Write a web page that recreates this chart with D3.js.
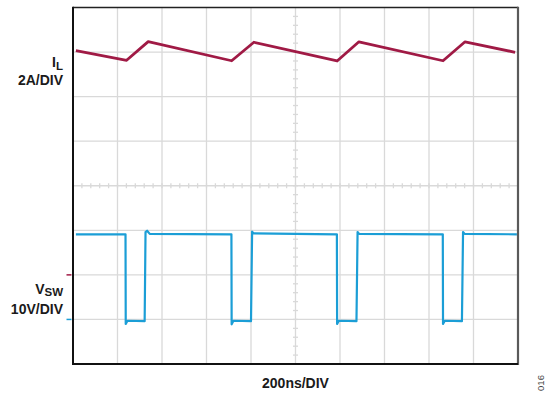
<!DOCTYPE html>
<html lang="en">
  <head>
    <meta charset="utf-8"/>
    <title>IL and VSW waveforms</title>
    <script src="https://d3js.org/d3.v7.min.js"></script>
    <style>
      body { margin: 0; background: #fff; }
      text { font-family: "Liberation Sans", Arial, sans-serif; font-weight: bold; fill: #1a1a1a; }
    </style>
  </head>
  <body>
    <div id="chart"></div>
    <script>
    // scope settings: 200ns/DIV, IL 2A/DIV (zero at -2 div), VSW 10V/DIV (zero at -3 div)
    var timeDivs = 10;
    var voltDivs = 8;
    var nsPerDiv = 200;

    // inductor current, ns / A
    var ilTime = [13, 241, 338, 713, 813, 1187, 1285, 1663, 1762, 1987];
    var ilAmps = [10.06, 9.63, 10.47, 9.61, 10.44, 9.60, 10.46, 9.61, 10.46, 9.99];

    // switch node voltage, ns / V
    var swTime = [13, 236, 237, 245, 322, 326, 333, 345,
                  712, 713, 721, 800, 805, 812,
                  1186, 1187, 1195, 1274, 1279, 1286,
                  1662, 1663, 1671, 1748, 1753, 1760, 1995];
    var swVolts = [19.1, 19.1, -1.0, -0.3, -0.4, 19.6, 19.9, 19.2,
                   19.1, -1.1, -0.3, -0.4, 19.7, 19.3,
                   19.1, -1.0, -0.3, -0.4, 19.6, 19.2,
                   19.1, -1.0, -0.3, -0.4, 19.6, 19.2, 19.1];

    var width = 546, height = 394;
    var plotLeft = 73, plotRight = 518, plotTop = 7.5, plotBottom = 364;

    var svg = d3.select("#chart").append("svg")
        .attr("width", width)
        .attr("height", height);

    var x = d3.scaleLinear().domain([0, timeDivs * nsPerDiv]).range([plotLeft, plotRight]);
    var yDiv = d3.scaleLinear().domain([-voltDivs / 2, voltDivs / 2]).range([plotBottom, plotTop]);
    var yIL = d3.scaleLinear().domain([-4, 12]).range([plotBottom, plotTop]);
    var ySW = d3.scaleLinear().domain([-10, 70]).range([plotBottom, plotTop]);

    // grid
    var grid = svg.append("g").attr("stroke", "#d9d9d9").attr("stroke-width", 1.3);
    d3.range(1, timeDivs).forEach(function(i) {
      var gx = x(i * nsPerDiv);
      grid.append("line").attr("x1", gx).attr("x2", gx).attr("y1", plotTop).attr("y2", plotBottom);
    });
    d3.range(-voltDivs / 2 + 1, voltDivs / 2).forEach(function(d) {
      grid.append("line").attr("x1", plotLeft).attr("x2", plotRight).attr("y1", yDiv(d)).attr("y2", yDiv(d));
    });

    // minor ticks on the centre lines
    var cx = x(timeDivs * nsPerDiv / 2), cy = yDiv(0);
    d3.range(0, timeDivs * 5).forEach(function(i) {
      var tx = x(i * nsPerDiv / 5);
      grid.append("line").attr("x1", tx).attr("x2", tx).attr("y1", cy - 2.5).attr("y2", cy + 2.5);
    });
    d3.range(0, voltDivs * 5).forEach(function(i) {
      var ty = yDiv(-voltDivs / 2 + i / 5);
      grid.append("line").attr("x1", cx - 2.5).attr("x2", cx + 2.5).attr("y1", ty).attr("y2", ty);
    });

    // traces
    var ilLine = d3.line().x(function(d, i) { return x(ilTime[i]); }).y(function(d) { return yIL(d); });
    var swLine = d3.line().x(function(d, i) { return x(swTime[i]); }).y(function(d) { return ySW(d); });

    svg.append("path").attr("d", swLine(swVolts))
      .attr("fill", "none").attr("stroke", "#1b9ed6").attr("stroke-width", 2.2)
      .attr("stroke-linejoin", "round");
    svg.append("path").attr("d", ilLine(ilAmps))
      .attr("fill", "none").attr("stroke", "#a01a45").attr("stroke-width", 2.8)
      .attr("stroke-linejoin", "round");

    // frame
    svg.append("line").attr("x1", plotLeft).attr("x2", plotRight).attr("y1", plotTop).attr("y2", plotTop)
      .attr("stroke", "#222").attr("stroke-width", 1.5);
    svg.append("line").attr("x1", plotRight).attr("x2", plotRight).attr("y1", plotTop - 0.7).attr("y2", plotBottom + 1)
      .attr("stroke", "#5a5a5a").attr("stroke-width", 2.2);
    svg.append("line").attr("x1", plotLeft).attr("x2", plotLeft).attr("y1", plotTop - 0.7).attr("y2", plotBottom + 1)
      .attr("stroke", "#111").attr("stroke-width", 2);
    svg.append("line").attr("x1", plotLeft - 1).attr("x2", plotRight).attr("y1", plotBottom).attr("y2", plotBottom)
      .attr("stroke", "#111").attr("stroke-width", 2);

    // ground markers
    svg.append("line").attr("x1", 66.5).attr("x2", 71.5).attr("y1", yIL(0)).attr("y2", yIL(0))
      .attr("stroke", "#a01a45").attr("stroke-width", 1.5);
    svg.append("line").attr("x1", 66.5).attr("x2", 71.5).attr("y1", ySW(0)).attr("y2", ySW(0))
      .attr("stroke", "#1b9ed6").attr("stroke-width", 1.5);

    // labels
    var il = svg.append("text").attr("x", 63).attr("y", 66.5).attr("text-anchor", "end").style("font-size", "14px");
    il.append("tspan").text("I");
    il.append("tspan").attr("dy", 3.5).style("font-size", "11.5px").text("L");
    svg.append("text").attr("x", 63).attr("y", 85).attr("text-anchor", "end").style("font-size", "14px").text("2A/DIV");

    var vs = svg.append("text").attr("x", 63).attr("y", 293.5).attr("text-anchor", "end").style("font-size", "14px");
    vs.append("tspan").text("V");
    vs.append("tspan").attr("dy", 2.5).style("font-size", "11.5px").text("SW");
    svg.append("text").attr("x", 63).attr("y", 313.5).attr("text-anchor", "end").style("font-size", "14px").text("10V/DIV");

    svg.append("text").attr("x", cx).attr("y", 387.5).attr("text-anchor", "middle").style("font-size", "14px").text("200ns/DIV");

    svg.append("text").attr("transform", "translate(544,383) rotate(-90)").attr("text-anchor", "middle")
      .style("font-size", "9.5px").style("font-weight", "normal").style("fill", "#444").text("016");
    </script>
  </body>
</html>
